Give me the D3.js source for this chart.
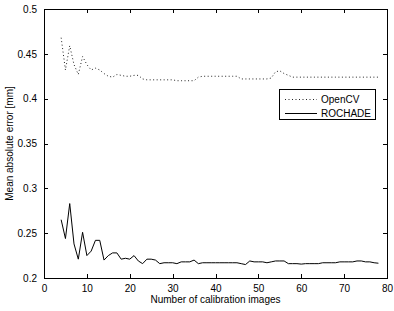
<!DOCTYPE html>
<html>
<head>
<meta charset="utf-8">
<script src="https://cdn.jsdelivr.net/npm/d3@7"></script>
<style>
html,body{margin:0;padding:0;background:#fff;}
svg{display:block;font-family:"Liberation Sans",Arial,Helvetica,sans-serif;}
</style>
</head>
<body>
<svg id="chart" width="394" height="311"></svg>
<script>
const xValues = d3.range(4, 79);
const opencv = [
  0.468, 0.432, 0.459, 0.438, 0.427, 0.447, 0.438, 0.432, 0.434, 0.432,
  0.428, 0.425, 0.424, 0.427, 0.426, 0.425, 0.425, 0.426, 0.426, 0.422,
  0.421, 0.421, 0.421, 0.421, 0.421, 0.421, 0.421, 0.420, 0.420, 0.420,
  0.420, 0.420, 0.424, 0.425, 0.425, 0.425, 0.425, 0.425, 0.425, 0.425,
  0.425, 0.425, 0.422, 0.422, 0.422, 0.422, 0.422, 0.422, 0.422, 0.423,
  0.430, 0.431, 0.428, 0.426, 0.424, 0.424, 0.424, 0.424, 0.424, 0.424,
  0.424, 0.424, 0.424, 0.424, 0.424, 0.424, 0.424, 0.424, 0.424, 0.424,
  0.424, 0.424, 0.424, 0.424, 0.424
];
const rochade = [
  0.265, 0.244, 0.283, 0.238, 0.221, 0.251, 0.225, 0.230, 0.242, 0.242,
  0.220, 0.225, 0.228, 0.228, 0.221, 0.222, 0.221, 0.225, 0.219, 0.216,
  0.221, 0.221, 0.220, 0.216, 0.217, 0.217, 0.217, 0.216, 0.218, 0.218,
  0.218, 0.220, 0.216, 0.217, 0.217, 0.217, 0.217, 0.217, 0.217, 0.217,
  0.217, 0.217, 0.216, 0.215, 0.219, 0.218, 0.218, 0.218, 0.217, 0.218,
  0.219, 0.219, 0.219, 0.216, 0.216, 0.216, 0.2155, 0.216, 0.216, 0.216,
  0.216, 0.217, 0.217, 0.217, 0.217, 0.218, 0.218, 0.218, 0.218, 0.219,
  0.219, 0.218, 0.218, 0.217, 0.2165
];
const seriesNames = ["OpenCV", "ROCHADE"];
const xTicks = [0, 10, 20, 30, 40, 50, 60, 70, 80];
const yTicks = [0.2, 0.25, 0.3, 0.35, 0.4, 0.45, 0.5];
const xTitle = "Number of calibration images";
const yTitle = "Mean absolute error [mm]";

const svg = d3.select("#chart");
const L = 44, R = 387, T = 9, B = 278;
const x = d3.scaleLinear().domain([0, 80]).range([L, R]);
const y = d3.scaleLinear().domain([0.2, 0.5]).range([B, T]);
const fs = 10;

// Box
svg.append("rect").attr("x", L).attr("y", T).attr("width", R - L).attr("height", B - T)
  .attr("fill", "none").attr("stroke", "#000").attr("stroke-width", 1).attr("shape-rendering", "crispEdges");

// Axes with inward ticks
const tk = 4;
svg.append("g").attr("transform", `translate(0,${B})`)
  .call(d3.axisBottom(x).tickValues(xTicks).tickSizeInner(-tk).tickSizeOuter(0).tickPadding(7).tickFormat(d3.format("d")))
  .call(g => g.select(".domain").remove())
  .call(g => g.selectAll("text").attr("font-size", fs).attr("font-family", "Liberation Sans, Arial, sans-serif").attr("fill", "#000"));
svg.append("g").attr("transform", `translate(0,${T})`)
  .call(d3.axisTop(x).tickValues(xTicks).tickSizeInner(-tk).tickSizeOuter(0).tickFormat(""))
  .call(g => g.select(".domain").remove());
svg.append("g").attr("transform", `translate(${L},0)`)
  .call(d3.axisLeft(y).tickValues(yTicks).tickSizeInner(-tk).tickSizeOuter(0).tickPadding(7).tickFormat(d => String(+d.toFixed(2))))
  .call(g => g.select(".domain").remove())
  .call(g => g.selectAll("text").attr("font-size", fs).attr("font-family", "Liberation Sans, Arial, sans-serif").attr("fill", "#000"));
svg.append("g").attr("transform", `translate(${R},0)`)
  .call(d3.axisRight(y).tickValues(yTicks).tickSizeInner(-tk).tickSizeOuter(0).tickFormat(""))
  .call(g => g.select(".domain").remove());
svg.selectAll(".tick line").attr("stroke", "#000").attr("shape-rendering", "crispEdges");

// Titles
svg.append("text").attr("x", (L + R) / 2).attr("y", 303).attr("text-anchor", "middle")
  .attr("font-size", fs).text(xTitle);
svg.append("text").attr("transform", `translate(13,${(T + B) / 2}) rotate(-90)`).attr("text-anchor", "middle")
  .attr("font-size", fs).text(yTitle);

// Lines
const line = d3.line().x((d, i) => x(xValues[i])).y(d => y(d));
svg.append("path").datum(opencv).attr("d", line).attr("fill", "none")
  .attr("stroke", "#222").attr("stroke-width", 1).attr("stroke-dasharray", "1,2.5");
svg.append("path").datum(rochade).attr("d", line).attr("fill", "none")
  .attr("stroke", "#000").attr("stroke-width", 1);

// Legend
const lg = svg.append("g");
lg.append("rect").attr("x", 279.5).attr("y", 89.5).attr("width", 96).attr("height", 30)
  .attr("fill", "#fff").attr("stroke", "#000").attr("stroke-width", 1);
const dashes = [{dash: "1,2.5", col: "#222"}, {dash: null, col: "#000"}];
seriesNames.forEach((name, i) => {
  const yy = 99 + i * 14;
  lg.append("line").attr("x1", 285).attr("x2", 317).attr("y1", yy + 0.5).attr("y2", yy + 0.5)
    .attr("stroke", dashes[i].col).attr("stroke-width", 1).attr("stroke-dasharray", dashes[i].dash);
  lg.append("text").attr("x", 321).attr("y", yy + 3.5).attr("font-size", fs).text(name);
});
</script>
</body>
</html>
